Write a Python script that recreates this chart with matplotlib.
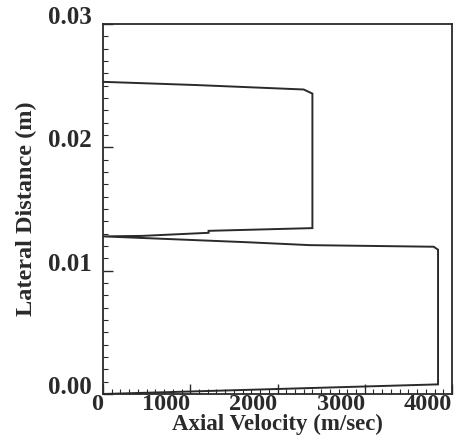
import matplotlib
matplotlib.use("Agg")
import matplotlib.pyplot as plt
from matplotlib.ticker import MultipleLocator

# Data
velocity = [0, 3840, 3840, 3790, 2370, 1670, 0, 450, 1210, 1210, 2400, 2400, 2300, 1070, 0]
distance = [0.0, 0.00078, 0.0117, 0.01194, 0.01207, 0.0123, 0.01278, 0.01282,
            0.01307, 0.01323, 0.01345, 0.02436, 0.02469, 0.02505, 0.02531]
xticks = [0, 1000, 2000, 3000, 4000]
xticklabels = ["0", "1000", "2000", "3000", "4000"]
yticks = [0.00, 0.01, 0.02, 0.03]
yticklabels = ["0.00", "0.01", "0.02", "0.03"]

plt.rcParams['font.family'] = ['Liberation Serif', 'DejaVu Serif']
plt.rcParams['font.weight'] = 'bold'

fig = plt.figure(figsize=(4.56, 4.40), dpi=100)
ax = fig.add_axes([103/456, 1 - 394/440, 349/456, 370/440])

ink = '#2a2a2a'
ax.plot(velocity, distance, color=ink, lw=1.4, solid_joinstyle='miter')

ax.set_xlim(0, 4000)
ax.set_ylim(0, 0.03)
ax.set_xticks(xticks)
ax.set_xticklabels(xticklabels, ha='right')
ax.set_yticks(yticks)
ax.set_yticklabels(yticklabels, va='baseline')
ax.xaxis.set_minor_locator(MultipleLocator(100))
ax.yaxis.set_minor_locator(MultipleLocator(0.001))

ax.tick_params(axis='both', which='both', direction='in', colors=ink,
               top=False, right=False)
ax.tick_params(axis='both', which='major', length=7, width=1.0, labelsize=18)
ax.tick_params(axis='x', which='major', labelsize=17.5, pad=0)
ax.tick_params(axis='both', which='minor', length=3.5, width=0.8)
ax.tick_params(axis='y', which='major', pad=8)
for lab in ax.get_xticklabels() + ax.get_yticklabels():
    lab.set_color(ink)
    lab.set_fontweight('bold')

for s in ax.spines.values():
    s.set_color(ink)
    s.set_linewidth(1.3)

ax.set_xlabel("Axial Velocity (m/sec)", fontsize=16.5, fontweight='bold', color=ink, labelpad=-1)
ax.set_ylabel("Lateral Distance (m)", fontsize=17.5, fontweight='bold', color=ink, labelpad=8)

fig.savefig("out.png", dpi=100, facecolor='white')
